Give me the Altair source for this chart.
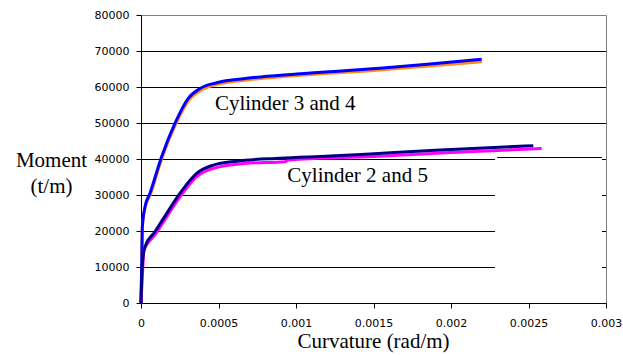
import altair as alt
import pandas as pd

# Cylinder 3 (orange) and 4 (blue)
c3_x = [0, 0.000005, 0.0000086, 0.000026, 0.00006, 0.000135, 0.000222, 0.00031, 0.00039, 0.0005, 0.0007, 0.001, 0.0015, 0.0019, 0.0022]
c3_y = [0, 11500, 20800, 26300, 30000, 40200, 49500, 56400, 59200, 60800, 62000, 63200, 64600, 66000, 67000]
c4_x = [0, 0.000005, 0.0000086, 0.000026, 0.000058, 0.000133, 0.000219, 0.000305, 0.000381, 0.000488, 0.000682, 0.001004, 0.00154, 0.0019, 0.002198]
c4_y = [0, 12000, 21200, 26750, 30500, 40650, 49900, 56850, 59600, 61200, 62400, 63600, 65200, 66560, 67700]
# Cylinder 2 (navy) and 5 (magenta)
c2_x = [0, 0.000004, 0.000011, 0.000026, 0.00009, 0.000166, 0.000252, 0.000359, 0.000467, 0.000617, 0.000897, 0.00122, 0.001477, 0.0019, 0.002531]
c2_y = [0, 6000, 11900, 15650, 19800, 24900, 30500, 36000, 38300, 39400, 40200, 40800, 41400, 42400, 43700]
c5_x = [0, 0.0000086, 0.000019, 0.00009, 0.000252, 0.000359, 0.000467, 0.000682, 0.000929, 0.00095, 0.0015, 0.002, 0.002585]
c5_y = [0, 7300, 14700, 18900, 29500, 35100, 37400, 38800, 39250, 39700, 40700, 41800, 42900]

series_names = ["Cylinder 3", "Cylinder 4", "Cylinder 5", "Cylinder 2"]
series_colors = ["#FF8C1A", "#0000FF", "#FF00FF", "#000080"]

x_ticks = [0, 0.0005, 0.001, 0.0015, 0.002, 0.0025, 0.003]
y_ticks = [0, 10000, 20000, 30000, 40000, 50000, 60000, 70000, 80000]
grid_vals = [10000, 20000, 30000, 40000, 50000, 60000, 70000]

labels_text = ["Cylinder 3 and 4", "Cylinder 2 and 5"]
labels_x = [0.000477, 0.000944]
labels_y = [53600, 33700]

# blank legend-box area
box_x = [0.002284, 0.002974]
box_y = [300, 40550]
box_border_x = [0.002297, 0.002974]

rows = []
for name, xs, ys in [("Cylinder 3", c3_x, c3_y), ("Cylinder 4", c4_x, c4_y),
                     ("Cylinder 5", c5_x, c5_y), ("Cylinder 2", c2_x, c2_y)]:
    for i, (a, b) in enumerate(zip(xs, ys)):
        rows.append({"series": name, "c": a, "m": b, "i": i})
df = pd.DataFrame(rows)

xscale = alt.Scale(domain=[0, 0.003], nice=False, zero=False)
yscale = alt.Scale(domain=[0, 80000], nice=False)

xaxis = alt.Axis(values=x_ticks, format="~f", grid=False, title="Curvature (rad/m)",
                 titleX=232, titleY=44, titleBaseline="alphabetic", titleAlign="center",
                 labelPadding=9, labelFlush=False)
yaxis = alt.Axis(values=y_ticks, format="d", grid=False, title=["Moment", "(t/m)"],
                 titleAngle=0, titleX=-90, titleY=151, titleAlign="center",
                 titleBaseline="alphabetic", titleLineHeight=26, labelPadding=7,
                 labelFlush=False)

def X(field):
    return alt.X(field, type="quantitative", scale=xscale, axis=xaxis)

def Y(field):
    return alt.Y(field, type="quantitative", scale=yscale, axis=yaxis)

grid_df = pd.DataFrame({"g": grid_vals})
grid = alt.Chart(grid_df).mark_rule(color="black", strokeWidth=1, yOffset=0.5).encode(
    y=Y("g")
)

lines = alt.Chart(df).mark_line(strokeWidth=3, interpolate="monotone").encode(
    x=X("c"),
    y=Y("m"),
    color=alt.Color("series:N", scale=alt.Scale(domain=series_names, range=series_colors), legend=None),
    detail="series:N",
    order="i:Q",
)

box_df = pd.DataFrame({"x1": [box_x[0]], "x2": [box_x[1]], "y1": [box_y[0]], "y2": [box_y[1]]})
box = alt.Chart(box_df).mark_rect(color="white").encode(
    x=X("x1"), x2="x2", y=Y("y1"), y2="y2"
)
border_df = pd.DataFrame({"x1": [box_border_x[0]], "x2": [box_border_x[1]], "y": [box_y[1]]})
border = alt.Chart(border_df).mark_rule(color="black", strokeWidth=1, yOffset=0.5).encode(
    x=X("x1"), x2="x2", y=Y("y")
)

txt_df = pd.DataFrame({"t": labels_text, "x": labels_x, "y": labels_y})
texts = alt.Chart(txt_df).mark_text(align="left", baseline="alphabetic",
                                    font="Liberation Serif", fontSize=21, color="black").encode(
    x=X("x"), y=Y("y"), text="t:N"
)

chart = alt.layer(grid, lines, box, border, texts).properties(
    width=465, height=288,
    autosize=alt.AutoSizeParams(type="none"),
    padding={"left": 141, "top": 15, "right": 17, "bottom": 53},
    background="white",
).configure_view(
    stroke="#808080", strokeWidth=1
).configure_axis(
    domainColor="black", domainWidth=1, tickColor="black", tickSize=5, tickWidth=1,
    labelFont="DejaVu Sans", labelFontSize=11, labelColor="black",
    titleFont="Liberation Serif", titleFontSize=21, titleFontWeight="normal", titleColor="black",
)

chart.save("out.html", embed_options={"renderer": "svg", "actions": False})
